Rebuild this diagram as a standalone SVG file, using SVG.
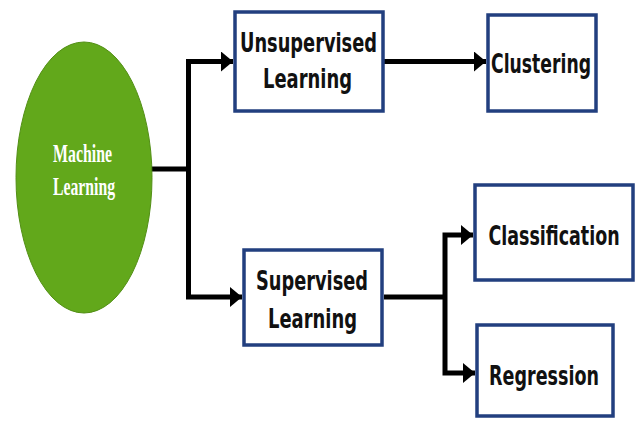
<svg xmlns="http://www.w3.org/2000/svg" width="637" height="421" viewBox="0 0 637 421">
  <style>
    .box { fill: #ffffff; stroke: #223f7f; stroke-width: 3.5; }
    .lbl { font-family: "DejaVu Sans", Verdana, sans-serif; font-weight: bold; font-size: 26px; fill: #111111; text-anchor: middle; }
    .root { font-family: "Liberation Serif", "Times New Roman", serif; font-weight: bold; font-size: 25px; fill: #ffffff; text-anchor: middle; }
    .wire { fill: none; stroke: #000000; stroke-width: 5; stroke-linejoin: miter; }
  </style>
  <defs>
    <marker id="arrow" markerUnits="userSpaceOnUse" markerWidth="12" markerHeight="20" refX="12" refY="10" orient="auto">
      <path d="M0,0 L12,10 L0,20 z" fill="#000000"/>
    </marker>
  </defs>
  <rect width="637" height="421" fill="#ffffff"/>

  <g id="connectors">
    <path class="wire" d="M150,169 H188.5"/>
    <path class="wire" d="M188.5,169 V61.5 H233" marker-end="url(#arrow)"/>
    <path class="wire" d="M188.5,169 V297 H242" marker-end="url(#arrow)"/>
    <path class="wire" d="M384,61.5 H486" marker-end="url(#arrow)"/>
    <path class="wire" d="M384,297 H445"/>
    <path class="wire" d="M445,297 V235 H473" marker-end="url(#arrow)"/>
    <path class="wire" d="M445,297 V373 H475" marker-end="url(#arrow)"/>
  </g>

  <g id="machine-learning">
    <ellipse cx="84" cy="177.5" rx="68" ry="135.5" fill="#62a81b" stroke="#528f15" stroke-width="1"/>
    <text class="root" x="82.5" y="162" textLength="59" lengthAdjust="spacingAndGlyphs">Machine</text>
    <text class="root" x="84" y="195" textLength="62" lengthAdjust="spacingAndGlyphs">Learning</text>
  </g>

  <g id="unsupervised-learning">
    <rect class="box" x="235" y="12" width="148" height="99"/>
    <text class="lbl" x="308.5" y="52" textLength="137" lengthAdjust="spacingAndGlyphs">Unsupervised</text>
    <text class="lbl" x="307.5" y="88" textLength="89" lengthAdjust="spacingAndGlyphs">Learning</text>
  </g>

  <g id="clustering">
    <rect class="box" x="488" y="15" width="108" height="96"/>
    <!-- narrow bold face: glyphs squeezed horizontally -->
    <text class="lbl" transform="translate(541,73) scale(0.663,1)">Clustering</text>
  </g>

  <g id="supervised-learning">
    <rect class="box" x="244" y="250" width="138" height="95"/>
    <text class="lbl" x="312" y="290" textLength="112" lengthAdjust="spacingAndGlyphs">Supervised</text>
    <text class="lbl" x="312.5" y="328" textLength="89" lengthAdjust="spacingAndGlyphs">Learning</text>
  </g>

  <g id="classification">
    <rect class="box" x="475" y="185" width="158" height="95"/>
    <text class="lbl" transform="translate(554,245) scale(0.672,1)">Classification</text>
  </g>

  <g id="regression">
    <rect class="box" x="477" y="325" width="136" height="91"/>
    <text class="lbl" transform="translate(544,385) scale(0.675,1)">Regression</text>
  </g>
</svg>
